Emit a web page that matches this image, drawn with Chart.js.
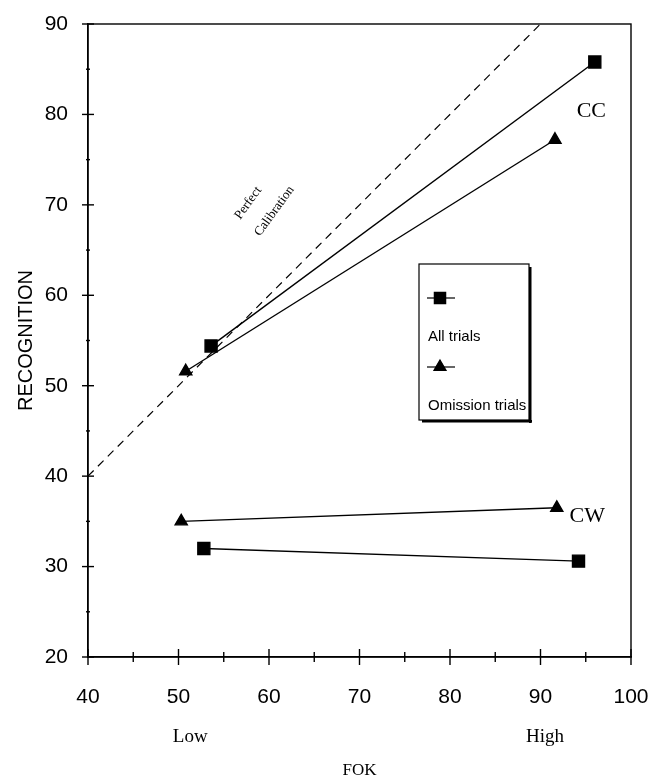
<!DOCTYPE html>
<html>
<head>
<meta charset="utf-8">
<script src="https://cdn.jsdelivr.net/npm/chart.js@4.4.1/dist/chart.umd.min.js"></script>
<style>
    html, body { margin: 0; padding: 0; background: #fff; }
    #wrap { width: 650px; height: 782px; }
</style>
</head>
<body>
<div id="wrap"><canvas id="fok-chart" width="650" height="782"></canvas></div>
<script>
// values (FOK on x, recognition on y)
const seriesNames = ['All trials', 'Omission trials'];
const ccAllTrials = [{ x: 53.6, y: 54.4 }, { x: 96.0, y: 85.8 }];
const ccOmissionTrials = [{ x: 50.8, y: 51.6 }, { x: 91.6, y: 77.2 }];
const cwAllTrials = [{ x: 52.8, y: 32.0 }, { x: 94.2, y: 30.6 }];
const cwOmissionTrials = [{ x: 50.3, y: 35.0 }, { x: 91.8, y: 36.5 }];
const perfectCalibration = [{ x: 40, y: 40 }, { x: 90, y: 90 }];
const fokLevels = ['Low', 'High'];
const fokLevelAt = [51.3, 90.5];

const SANS = '"Liberation Sans", Arial, sans-serif';
const SERIF = '"Liberation Serif", "Times New Roman", serif';

// ticks crossing the axes + frame round the plot
const axisDecor = {
    id: 'axisDecor',
    afterDraw(chart) {
        const { ctx, chartArea: a, scales } = chart;
        ctx.save();
        ctx.strokeStyle = '#000';
        ctx.lineWidth = 1.4;
        ctx.strokeRect(a.left, a.top, a.right - a.left, a.bottom - a.top);

        scales.x.ticks.forEach(t => {
            const px = scales.x.getPixelForValue(t.value);
            const len = t.value % 10 === 0 ? 8 : 5;
            ctx.beginPath();
            ctx.moveTo(px, a.bottom - len);
            ctx.lineTo(px, a.bottom + len);
            ctx.stroke();
        });
        scales.y.ticks.forEach(t => {
            const py = scales.y.getPixelForValue(t.value);
            const len = t.value % 10 === 0 ? 6 : 2;
            ctx.beginPath();
            ctx.moveTo(a.left - len, py);
            ctx.lineTo(a.left + len, py);
            ctx.stroke();
        });
        ctx.restore();
    }
};

// text labels, legend box
const notes = {
    id: 'notes',
    afterDraw(chart) {
        const { ctx, chartArea: a, scales } = chart;
        const X = v => scales.x.getPixelForValue(v);
        const Y = v => scales.y.getPixelForValue(v);
        ctx.save();
        ctx.fillStyle = '#000';
        ctx.textBaseline = 'middle';

        ctx.font = '22px ' + SERIF;
        ctx.textAlign = 'left';
        ctx.fillText('CC', X(94.0), Y(80.3));
        ctx.fillText('CW', X(93.2), Y(35.6));

        // Perfect Calibration, rotated along the diagonal
        ctx.font = '13px ' + SERIF;
        ctx.textAlign = 'center';
        [['Perfect', X(57.7), Y(70.2)], ['Calibration', X(60.6), Y(69.3)]].forEach(([txt, x, y]) => {
            ctx.save();
            ctx.translate(x, y);
            ctx.rotate(-54 * Math.PI / 180);
            ctx.fillText(txt, 0, 0);
            ctx.restore();
        });

        // Low / High / FOK under the axis
        ctx.font = '19px ' + SERIF;
        fokLevels.forEach((lbl, i) => ctx.fillText(lbl, X(fokLevelAt[i]), a.bottom + 80));
        ctx.font = '17px ' + SERIF;
        ctx.fillText('FOK', X(70), a.bottom + 114);

        // legend box
        const bx = 419, by = 264, bw = 110, bh = 156;
        ctx.lineWidth = 1.2;
        ctx.strokeStyle = '#000';
        ctx.strokeRect(bx, by, bw, bh);
        ctx.fillRect(bx + bw, by + 3, 2.5, bh);
        ctx.fillRect(bx + 3, by + bh, bw, 2.5);

        const styles = ['rect', 'triangle'];
        const rows = [298, 367];
        ctx.font = '15px ' + SANS;
        ctx.textAlign = 'left';
        seriesNames.forEach((name, i) => {
            const ry = rows[i];
            ctx.beginPath();
            ctx.moveTo(bx + 8, ry);
            ctx.lineTo(bx + 36, ry);
            ctx.stroke();
            Chart.helpers.drawPoint(ctx, { pointStyle: styles[i], radius: styles[i] === 'rect' ? 8 : 7, rotation: 0, borderWidth: 1 }, bx + 21, ry);
            ctx.fill();
            ctx.fillText(name, bx + 9, ry + 39);
        });
        ctx.restore();
    }
};

const lineSet = (data, style, r) => ({
    data: data,
    showLine: true,
    borderColor: '#000',
    borderWidth: 1.4,
    backgroundColor: '#000',
    pointBackgroundColor: '#000',
    pointBorderColor: '#000',
    pointStyle: style,
    pointRadius: r,
    pointHoverRadius: r
});

const ctx = document.getElementById('fok-chart').getContext('2d');
new Chart(ctx, {
    type: 'scatter',
    data: {
        datasets: [
            lineSet(ccAllTrials, 'rect', 8.5),
            lineSet(ccOmissionTrials, 'triangle', 7),
            lineSet(cwAllTrials, 'rect', 8.5),
            lineSet(cwOmissionTrials, 'triangle', 7),
            {
                data: perfectCalibration,
                showLine: true,
                borderColor: '#000',
                borderWidth: 1.2,
                borderDash: [8, 6],
                pointRadius: 0
            }
        ]
    },
    options: {
        responsive: false,
        animation: false,
        devicePixelRatio: 1,
        layout: { padding: { top: 24, right: 19, left: 0, bottom: 0 } },
        plugins: { legend: { display: false }, tooltip: { enabled: false } },
        scales: {
            x: {
                type: 'linear',
                min: 40,
                max: 100,
                afterFit: s => {
                    s.height = 125;
                    s.paddingLeft = 0;
                    s.paddingRight = 0;
                },
                grid: { drawOnChartArea: false, drawTicks: false },
                border: { display: true, color: '#000', width: 1.4 },
                ticks: {
                    stepSize: 5,
                    autoSkip: false,
                    maxRotation: 0,
                    padding: 28,
                    color: '#000',
                    font: { family: SANS, size: 21 },
                    callback: v => (v % 10 === 0 ? v : '')
                }
            },
            y: {
                type: 'linear',
                min: 20,
                max: 90,
                afterFit: s => {
                    s.width = 88;
                    s.paddingTop = 0;
                    s.paddingBottom = 0;
                },
                grid: { drawOnChartArea: false, drawTicks: false },
                border: { display: true, color: '#000', width: 1.4 },
                title: {
                    display: true,
                    text: 'RECOGNITION',
                    color: '#000',
                    font: { family: SANS, size: 20 },
                    padding: { top: 14, bottom: 0 }
                },
                ticks: {
                    stepSize: 5,
                    autoSkip: false,
                    padding: 20,
                    color: '#000',
                    font: { family: SANS, size: 21 },
                    callback: v => (v % 10 === 0 ? v : '')
                }
            }
        }
    },
    plugins: [axisDecor, notes]
});
</script>
</body>
</html>
